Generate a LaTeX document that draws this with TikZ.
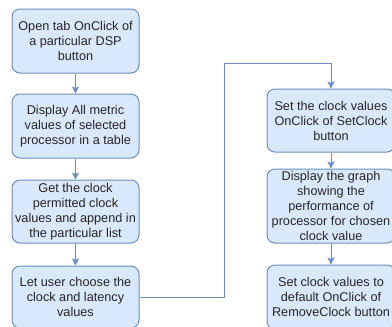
\documentclass[tikz,border=0pt]{standalone}
\usepackage{fontspec}
\setmainfont{Liberation Sans}
\usetikzlibrary{arrows.meta}
\definecolor{boxfill}{HTML}{DAE8FC}
\definecolor{boxline}{HTML}{6C8EBF}
\begin{document}
\begin{tikzpicture}[x=1pt,y=-1pt,
  flowbox/.style={draw=boxline,fill=boxfill,line width=1pt,rounded corners=8pt,
    align=center,inner sep=0pt,text=black!85,
    font=\fontsize{12.7}{15}\selectfont},
  flowarrow/.style={draw=boxline,line width=1pt,-{Stealth[length=7pt,width=7pt,inset=1.5pt]}}]
\useasboundingbox (0,0) rectangle (392,327);
\begin{scope}
\clip (0,0) rectangle (392,327);
\node[flowbox,minimum width=127pt,minimum height=64pt] (b1) at (75.5,41) {Open tab OnClick of\\a particular DSP\\button};
\node[flowbox,minimum width=127pt,minimum height=64pt] (b2) at (75.5,126) {Display All metric\\values of selected\\processor in a table};
\node[flowbox,minimum width=127pt,minimum height=63pt] (b3) at (75.5,211.5) {Get the clock\\permitted clock\\values and append in\\the particular list};
\node[flowbox,minimum width=127pt,minimum height=62pt] (b4) at (75.5,297) {Let user choose the\\clock and latency\\values};
\node[flowbox,minimum width=128pt,minimum height=63pt] (r1) at (331,120.5) {Set the clock values\\OnClick of SetClock\\button};
\node[flowbox,minimum width=128pt,minimum height=74pt] (r2) at (331,206) {Display the graph\\showing the\\performance of\\processor for chosen\\clock value};
\node[flowbox,minimum width=128pt,minimum height=64pt] (r3) at (331,297) {Set clock values to\\default OnClick of\\RemoveClock button};
\draw[flowarrow] (b1) -- (b2);
\draw[flowarrow] (b2) -- (b3);
\draw[flowarrow] (b3) -- (b4);
\draw[flowarrow] (r1) -- (r2);
\draw[flowarrow] (r2) -- (r3);
\coordinate (bend) at (224,63);
\draw[flowarrow] (b4.east) -| (bend) -| (r1.north);
\end{scope}
\end{tikzpicture}
\end{document}
